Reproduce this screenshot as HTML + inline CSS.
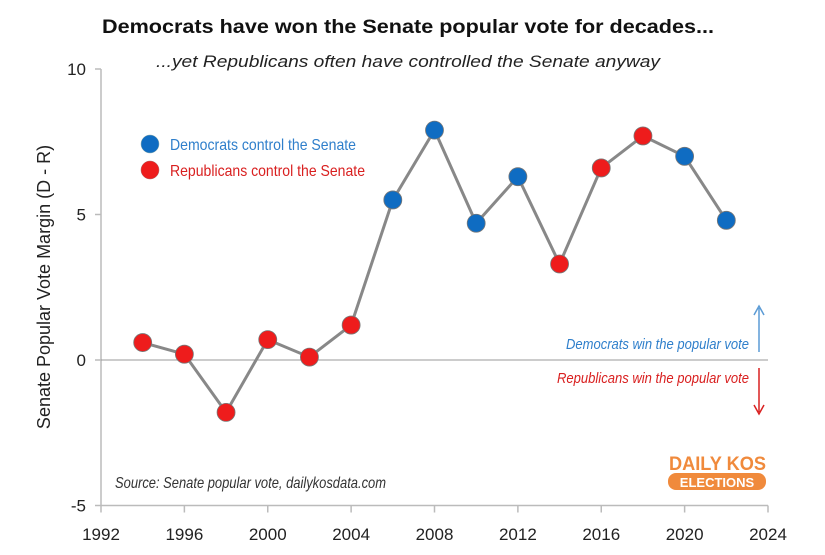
<!DOCTYPE html>
<html><head><meta charset="utf-8"><style>
body{margin:0;background:#fff;}
svg text{font-family:"Liberation Sans",sans-serif;}
</style></head><body>
<svg width="825" height="550">
<text x="102" y="33" textLength="612" lengthAdjust="spacingAndGlyphs" font-size="19" font-weight="bold" fill="#111">Democrats have won the Senate popular vote for decades...</text>
<text x="156" y="67" textLength="504" lengthAdjust="spacingAndGlyphs" font-size="17" font-style="italic" fill="#222">...yet Republicans often have controlled the Senate anyway</text>
<g id="axes"></g>
<g id="marks"></g>
<text transform="translate(50,287) rotate(-90)" text-anchor="middle" font-size="18" fill="#222">Senate Popular Vote Margin (D - R)</text>
<circle cx="150" cy="144" r="9" fill="#0f6cc2" stroke="#8aa" stroke-width="0.5"/>
<text x="170" y="150" textLength="186" lengthAdjust="spacingAndGlyphs" font-size="16" fill="#2f7fcb">Democrats control the Senate</text>
<circle cx="150" cy="170" r="9" fill="#ee1c1c" stroke="#a66" stroke-width="0.5"/>
<text x="170" y="176" textLength="195" lengthAdjust="spacingAndGlyphs" font-size="16" fill="#d92020">Republicans control the Senate</text>
<text x="566" y="349" textLength="183" lengthAdjust="spacingAndGlyphs" font-size="15" font-style="italic" fill="#2f7fcb">Democrats win the popular vote</text>
<text x="557" y="383" textLength="192" lengthAdjust="spacingAndGlyphs" font-size="15" font-style="italic" fill="#d92020">Republicans win the popular vote</text>
<line x1="759" y1="352" x2="759" y2="308" stroke="#5b9bd5" stroke-width="1.5"/>
<path d="M754,315 L759,306 L764,315" fill="none" stroke="#5b9bd5" stroke-width="1.5"/>
<line x1="759" y1="368" x2="759" y2="412" stroke="#d92020" stroke-width="1.5"/>
<path d="M754,405 L759,414 L764,405" fill="none" stroke="#d92020" stroke-width="1.5"/>
<text x="115" y="488" textLength="271" lengthAdjust="spacingAndGlyphs" font-size="16" font-style="italic" fill="#333">Source: Senate popular vote, dailykosdata.com</text>
<text x="669" y="470" textLength="97" lengthAdjust="spacingAndGlyphs" font-size="19" font-weight="bold" fill="#f08a3c">DAILY KOS</text>
<rect x="668" y="473" width="98" height="17" rx="8" fill="#f08a3c"/>
<text x="717" y="487" text-anchor="middle" font-size="13" font-weight="bold" fill="#fff">ELECTIONS</text>
</svg>
<script>
const years=[1994,1996,1998,2000,2002,2004,2006,2008,2010,2012,2014,2016,2018,2020,2022];
const margins=[0.6,0.2,-1.8,0.7,0.1,1.2,5.5,7.9,4.7,6.3,3.3,6.6,7.7,7.0,4.8];
const control=["R","R","R","R","R","R","D","D","D","D","R","R","R","D","D"];
const xTicks=[1992,1996,2000,2004,2008,2012,2016,2020,2024];
const yTicks=[-5,0,5,10];
const NS="http://www.w3.org/2000/svg";
const X=v=>101+(v-1992)*(768-101)/32;
const Y=v=>360-v*(360-69)/10;
function mk(p,t,a){const e=document.createElementNS(NS,t);for(const k in a)e.setAttribute(k,a[k]);p.appendChild(e);return e;}
const ax=document.getElementById('axes');
let l=mk(ax,'line',{x1:X(1992),x2:X(1992),y1:Y(10),y2:Y(-5),stroke:'#bbb','stroke-width':1.5});


l=mk(ax,'line',{x1:X(1992),x2:X(2024),y1:Y(-5),y2:Y(-5),stroke:'#bbb','stroke-width':1.5});


l=mk(ax,'line',{x1:X(1992),x2:X(2024),y1:Y(0),y2:Y(0),stroke:'#999','stroke-width':1});


xTicks.forEach(t=>{
 const tk=mk(ax,'line',{x1:X(t),x2:X(t),y1:Y(-5),y2:Y(-5)+7,stroke:'#bbb','stroke-width':1.5});
 
 
 const tx=mk(ax,'text',{x:X(t),y:540,'text-anchor':'middle','font-size':17,fill:'#222'});
 tx.textContent=t;
 
 
});
yTicks.forEach(t=>{
 const tk=mk(ax,'line',{x1:X(1992)-6,x2:X(1992),y1:Y(t),y2:Y(t),stroke:'#bbb','stroke-width':1.5});
 
 
 const tx=mk(ax,'text',{x:86,y:Y(t)+6,'text-anchor':'end','font-size':17,fill:'#222'});
 tx.textContent=t;
 
 
});
const mg=document.getElementById('marks');
const pl=mk(mg,'polyline',{points:years.map((y,i)=>X(y)+','+Y(margins[i])).join(' '),fill:'none',stroke:'#888','stroke-width':3});


years.forEach((y,i)=>{
 const c=mk(mg,'circle',{cx:X(y),cy:Y(margins[i]),r:9,fill:control[i]==='D'?'#0f6cc2':'#ee1c1c',stroke:'#777','stroke-width':0.8});
 
 
});
</script>
</body></html>
